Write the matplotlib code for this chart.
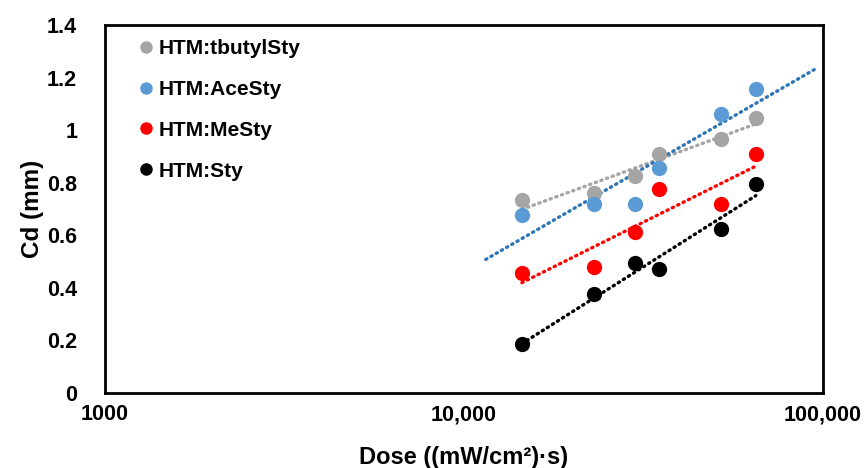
import numpy as np
import matplotlib
matplotlib.use("Agg")
import matplotlib.pyplot as plt
from matplotlib.ticker import FixedLocator, FixedFormatter, NullLocator
from matplotlib.lines import Line2D

plt.rcParams['font.family'] = ['Liberation Sans', 'DejaVu Sans']
plt.rcParams['font.weight'] = 'bold'

# ---- data ----
dose = [14500, 23000, 30000, 35000, 52000, 65000]
series_names = ["HTM:tbutylSty", "HTM:AceSty", "HTM:MeSty", "HTM:Sty"]
cd_tbutyl = [0.734, 0.760, 0.826, 0.909, 0.968, 1.045]
cd_ace = [0.676, 0.719, 0.719, 0.855, 1.060, 1.158]
cd_me = [0.458, 0.478, 0.611, 0.776, 0.719, 0.909]
cd_sty = [0.186, 0.377, 0.493, 0.470, 0.624, 0.795]
series_values = [cd_tbutyl, cd_ace, cd_me, cd_sty]

x_ticks = [1000, 10000, 100000]
x_tick_labels = ["1000", "10,000", "100,000"]
y_ticks = [0, 0.2, 0.4, 0.6, 0.8, 1.0, 1.2, 1.4]
y_tick_labels = ["0", "0.2", "0.4", "0.6", "0.8", "1", "1.2", "1.4"]

# ---- styles ----
marker_colors = ["#A5A5A5", "#5B9BD5", "#FF0000", "#000000"]
trend_colors = ["#A5A5A5", "#2E75B6", "#FF0000", "#000000"]
trend_ranges = [None, (11500, 97000), None, None]

fig = plt.figure(figsize=(8.66, 4.68), dpi=100)
ax = fig.add_axes([105/866, 1-393/468, (823-105)/866, (393-25)/468])

for vals, mc, tc, rng in zip(series_values, marker_colors, trend_colors, trend_ranges):
    lx = np.log10(dose)
    k, b = np.polyfit(lx, vals, 1)
    if rng is None:
        rng = (min(dose), max(dose))
    xs = np.logspace(np.log10(rng[0]), np.log10(rng[1]), 100)
    ax.plot(xs, k*np.log10(xs) + b, color=tc, lw=2.4, linestyle=(0, (0.4, 1.4)),
            dash_capstyle='round', zorder=2)
    ax.plot(dose, vals, 'o', color=mc, markersize=11, markeredgewidth=0, zorder=3)

ax.set_xscale('log')
ax.set_xlim(1000, 100000)
ax.set_ylim(0, 1.4)
ax.xaxis.set_major_locator(FixedLocator(x_ticks))
ax.xaxis.set_major_formatter(FixedFormatter(x_tick_labels))
ax.xaxis.set_minor_locator(NullLocator())
ax.yaxis.set_major_locator(FixedLocator(y_ticks))
ax.yaxis.set_major_formatter(FixedFormatter(y_tick_labels))
ax.tick_params(axis='both', length=0, labelsize=15.5)
ax.tick_params(axis='x', pad=8)
ax.tick_params(axis='y', pad=20)
for lab in ax.get_xticklabels() + ax.get_yticklabels():
    lab.set_fontweight('bold')
for sp in ax.spines.values():
    sp.set_linewidth(2.0)
    sp.set_color('black')

ax.set_xlabel("Dose ((mW/cm²)·s)", fontsize=17, fontweight='bold', labelpad=15)
ax.set_ylabel("Cd (mm)", fontsize=17.5, fontweight='bold', labelpad=2)

handles = [Line2D([], [], marker='o', linestyle='none', color=c, markersize=9,
                  markeredgewidth=0) for c in marker_colors]
leg = ax.legend(handles, series_names, loc='upper left', bbox_to_anchor=(0.045, 0.962),
                frameon=False, fontsize=15, handlelength=0.8, handletextpad=0.2,
                labelspacing=1.05, borderaxespad=0, borderpad=0)
for t in leg.get_texts():
    t.set_fontweight('bold')

fig.savefig("out.png", dpi=100)
